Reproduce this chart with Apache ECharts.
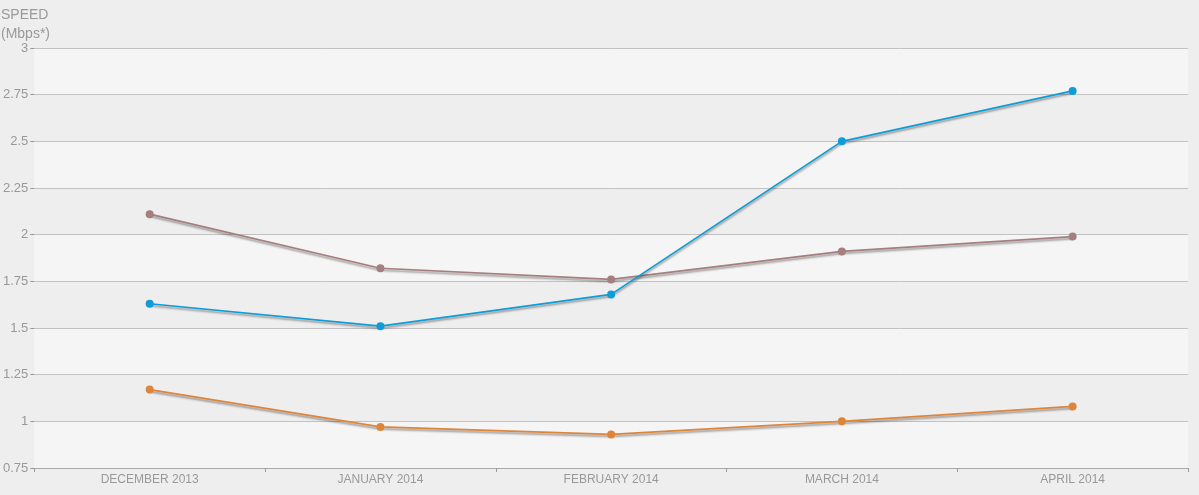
<!DOCTYPE html>
<html>
<head>
<meta charset="utf-8">
<script src="https://cdn.jsdelivr.net/npm/echarts@6/dist/echarts.min.js"></script>
<style>
  html, body { margin: 0; padding: 0; background: #eeeeee; }
  #chart { width: 1199px; height: 495px; }
</style>
</head>
<body>
<div id="chart"></div>
<script>
// months on the x axis
var months = ['DECEMBER 2013', 'JANUARY 2014', 'FEBRUARY 2014', 'MARCH 2014', 'APRIL 2014'];
// three speed series (Mbps)
var brownVals = [2.11, 1.82, 1.76, 1.91, 1.99];
var blueVals = [1.63, 1.51, 1.68, 2.50, 2.77];
var orangeVals = [1.17, 0.97, 0.93, 1.00, 1.08];
var yTicks = [0.75, 1, 1.25, 1.5, 1.75, 2, 2.25, 2.5, 2.75, 3];

var chart = echarts.init(document.getElementById('chart'));

function mkSeries(data, color) {
    return {
        type: 'line',
        data: data,
        symbol: 'circle',
        symbolSize: 8,
        animation: false,
        itemStyle: { color: color },
        lineStyle: {
            color: color,
            width: 1.7,
            shadowColor: 'rgba(0,0,0,0.4)',
            shadowBlur: 2,
            shadowOffsetY: 2
        }
    };
}

var option = {
    backgroundColor: '#eeeeee',
    textStyle: { fontFamily: 'Liberation Sans, Arial, sans-serif' },
    title: {
        text: 'SPEED\n(Mbps*)',
        left: -4,
        top: 1,
        textStyle: { color: '#999', fontSize: 14, fontWeight: 'normal', lineHeight: 19 }
    },
    grid: { left: 33, right: 11, top: 48, bottom: 27 },
    xAxis: {
        type: 'category',
        data: months,
        boundaryGap: true,
        axisLine: { lineStyle: { color: '#aaa' } },
        axisTick: { show: true, length: 4, lineStyle: { color: '#999' } },
        axisLabel: { color: '#999', fontSize: 12, margin: 6 }
    },
    yAxis: {
        type: 'value',
        min: yTicks[0],
        max: yTicks[yTicks.length - 1],
        interval: 0.25,
        axisLine: { show: false },
        axisTick: { show: true, length: 4, lineStyle: { color: '#999' } },
        axisLabel: { color: '#999', fontSize: 13, margin: 6 },
        splitLine: { lineStyle: { color: '#c2c2c2' } },
        splitArea: { show: true, areaStyle: { color: ['#f5f5f5', '#eeeeee'] } }
    },
    series: [
        mkSeries(brownVals, '#a57e7e'),
        mkSeries(blueVals, '#0e9dd8'),
        mkSeries(orangeVals, '#df853a')
    ]
};

chart.setOption(option);
</script>
</body>
</html>
